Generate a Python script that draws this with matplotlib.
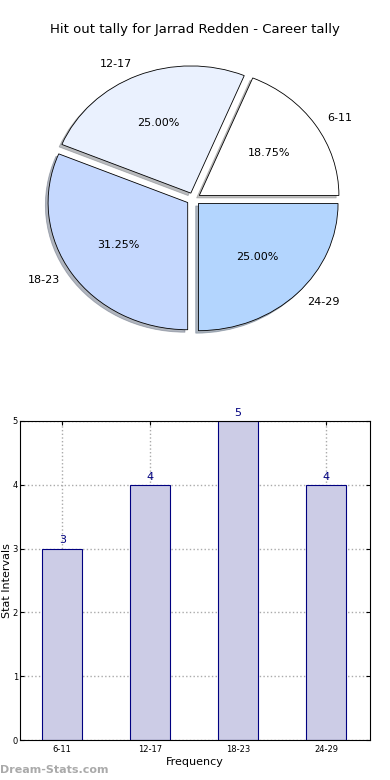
import matplotlib
matplotlib.use("Agg")
import matplotlib.pyplot as plt
import numpy as np

categories = ["6-11", "12-17", "18-23", "24-29"]
values = [3, 4, 5, 4]
pie_colors = ["#FFFFFF", "#EAF1FE", "#C5D8FE", "#B3D5FE"]
title = "Hit out tally for Jarrad Redden - Career tally"

fig = plt.figure(figsize=(3.9, 7.8), dpi=100)

# Pie
axp = fig.add_axes([19/390, 422/780, 349/390, 318/780])
wedges, texts, autotexts = axp.pie(values, labels=categories, colors=pie_colors,
                                   explode=[0.05]*4, autopct="%1.2f%%",
                                   shadow=dict(ox=-0.014, oy=-0.014, shade=0.5),
                                   startangle=0, counterclock=True,
                                   wedgeprops=dict(edgecolor="black", linewidth=0.6),
                                   textprops=dict(fontsize=8))
axp.set_aspect("auto")
axp.set_xlim(-1.25, 1.25)
axp.set_ylim(-1.25, 1.25)
fig.text(0.5, 1 - 30/780, title, ha="center", va="center", fontsize=9.5)

# Bar
axb = fig.add_axes([20/390, 40/780, 350/390, 319/780])
x = np.arange(len(categories))
axb.bar(x, values, width=0.45, color="#CCCCE6", edgecolor="#000080", linewidth=0.8, zorder=2)
for xi, v in zip(x, values):
    axb.text(xi, v + 0.05, str(v), ha="center", va="bottom", color="#000080", fontsize=8)
axb.set_xlim(-0.48, 3.5)
axb.set_ylim(0, 5)
axb.set_xticks(x)
axb.set_xticklabels(categories, fontsize=6)
axb.set_yticks(range(6))
axb.tick_params(axis="y", labelsize=6, pad=1.5)
axb.tick_params(direction="in", top=True, right=True, length=3)
axb.grid(True, linestyle=":", color="#AAAAAA", linewidth=1.0, zorder=0)
axb.set_axisbelow(True)
axb.set_xlabel("Frequency", fontsize=8, labelpad=2)
axb.set_ylabel("Stat Intervals", fontsize=8)
axb.yaxis.set_label_coords(-0.022, 0.5)

fig.text(0.0, 10/780, "Dream-Stats.com", ha="left", va="center", fontsize=8,
         color="#AAAAAA", fontweight="bold")

fig.savefig("out.png", dpi=100)
